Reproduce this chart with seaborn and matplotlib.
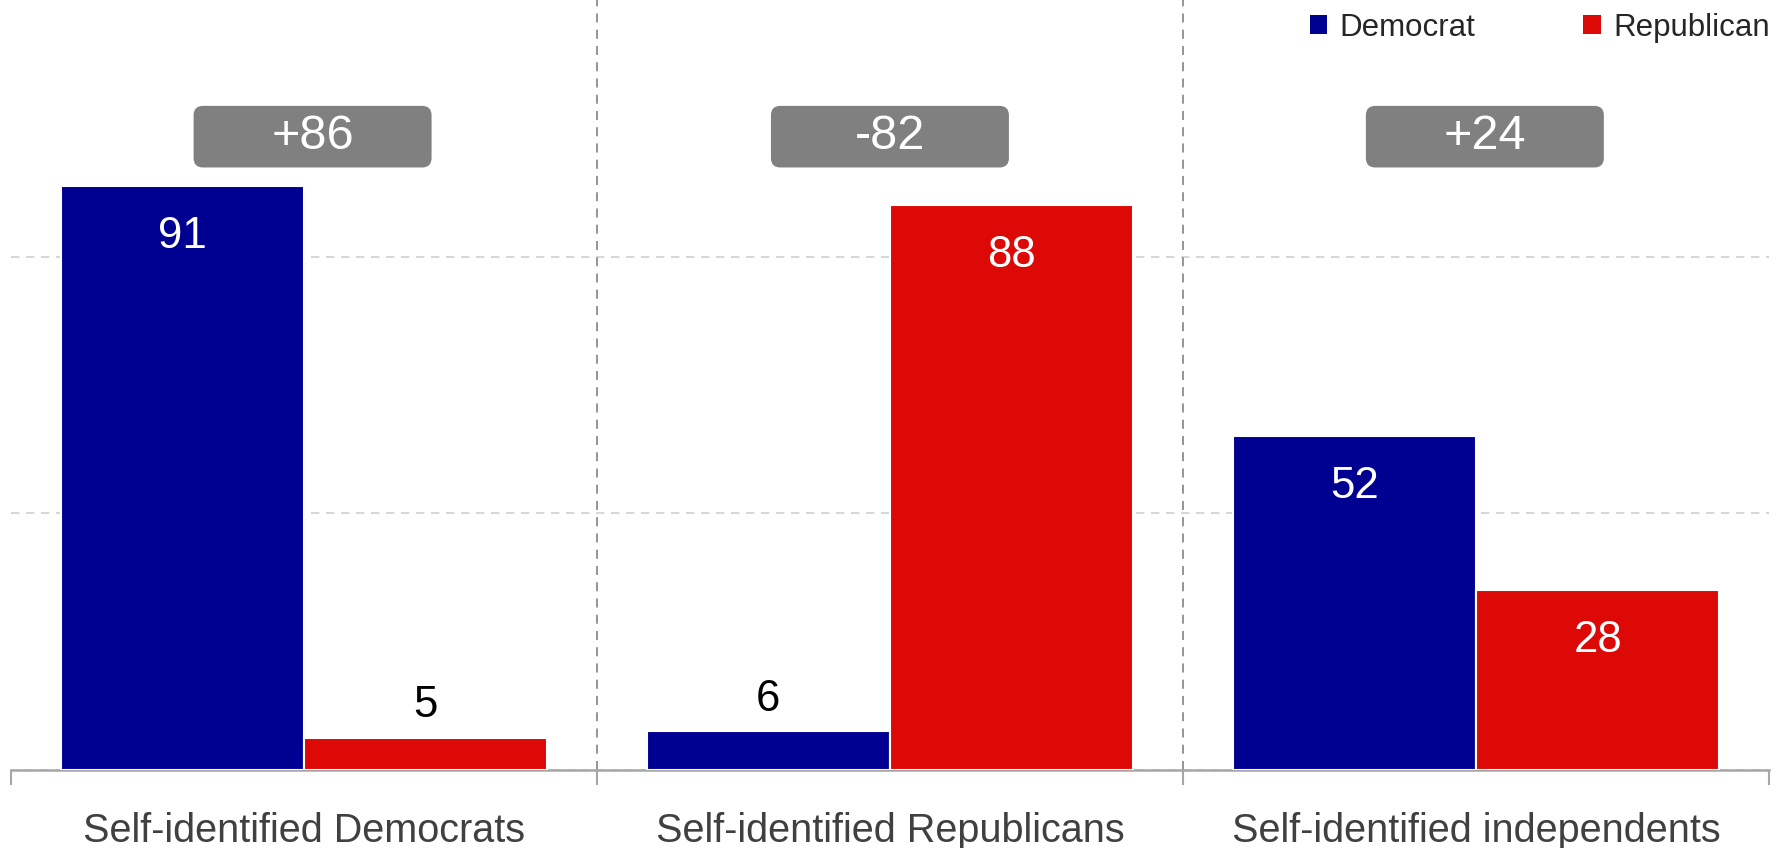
"""Party ID vs. vote: grouped bars with margin badges."""

import pandas as pd
import matplotlib.pyplot as plt
import seaborn as sns
from matplotlib.patches import FancyBboxPatch, Patch

sns.set_theme(style='white')
plt.rcParams['font.family'] = ['Liberation Sans', 'DejaVu Sans']

# data
groups = ['Self-identified Democrats', 'Self-identified Republicans',
          'Self-identified independents']
parties = ['Democrat', 'Republican']
dem_vals = [91, 6, 52]
rep_vals = [5, 88, 28]

colors = {'Democrat': '#000091', 'Republican': '#DD0906'}

df = pd.DataFrame({
    'group': groups * 2,
    'party': ['Democrat'] * 3 + ['Republican'] * 3,
    'value': dem_vals + rep_vals,
})

fig = plt.figure(figsize=(17.87, 8.48), dpi=100)
ax = fig.add_axes([0.006, 0.092, 0.984, 0.908])

sns.barplot(data=df, x='group', y='value', hue='party', hue_order=parties,
            palette=colors, saturation=1, width=0.83, edgecolor='white',
            linewidth=1.5, ax=ax, legend=False, zorder=3)

ax.set_xlim(-0.5, 2.5)
ax.set_ylim(0, 120)

# value labels: white inside tall bars, black above short ones
for cont in ax.containers:
    for bar in cont:
        h = bar.get_height()
        x = bar.get_x() + bar.get_width() / 2
        if h > 15:
            ax.annotate(f'{h:.0f}', (x, h), xytext=(0, -36),
                        textcoords='offset points', ha='center', va='center',
                        color='white', fontsize=31.5, zorder=5)
        else:
            ax.annotate(f'{h:.0f}', (x, h), xytext=(0, 23),
                        textcoords='offset points', ha='center', va='center',
                        color='black', fontsize=31.5, zorder=5)

# margin badges (slightly off-centre in the original)
badge_shift = [0.015, 0.0, 0.015]
for i, (d, r) in enumerate(zip(dem_vals, rep_vals)):
    diff = d - r
    label = f'+{diff}' if diff > 0 else f'{diff}'
    bw, bh, yc = 0.406, 9.6, 98.7
    xc = i + badge_shift[i]
    box = FancyBboxPatch((xc - bw / 2, yc - bh / 2), bw, bh,
                         boxstyle='round,pad=0,rounding_size=0.016',
                         mutation_aspect=91, facecolor='#808080',
                         edgecolor='none', zorder=4)
    ax.add_patch(box)
    ax.text(xc, yc, label, ha='center', va='center', color='white',
            fontsize=35, zorder=5)

# grid and separators
ax.set_yticks([0, 40, 80])
ax.yaxis.grid(True, color='#d0d0d0', linestyle=(0, (5, 4)), linewidth=1.2)
ax.set_yticklabels([])
ax.tick_params(axis='y', length=0)
for xs in [0.5, 1.5]:
    ax.axvline(xs, color='#8c8c8c', linestyle=(0, (5, 4)), linewidth=1.3,
               zorder=2)

for s in ['left', 'right', 'top']:
    ax.spines[s].set_visible(False)
ax.spines['bottom'].set_color('#a6a6a6')
ax.spines['bottom'].set_linewidth(1.8)

ax.set_xticks(range(3))
ax.set_xticklabels(groups, fontsize=28.5, color='#404040')
ax.tick_params(axis='x', which='major', length=0, pad=30)
ax.set_xticks([-0.5, 0.5, 1.5, 2.5], minor=True)
ax.tick_params(axis='x', which='minor', length=11, width=1.5,
               color='#a6a6a6', bottom=True)
ax.set_xlabel('')
ax.set_ylabel('')

handles = [Patch(facecolor=colors[p], edgecolor='none', label=p)
           for p in parties]
ax.legend(handles=handles, loc='upper right', bbox_to_anchor=(1.011, 1.008),
          ncol=2, frameon=False, fontsize=22.5, handlelength=0.55,
          handleheight=0.55, handletextpad=0.4, columnspacing=3.45,
          borderaxespad=0.2)

fig.savefig('out.png', dpi=100)
